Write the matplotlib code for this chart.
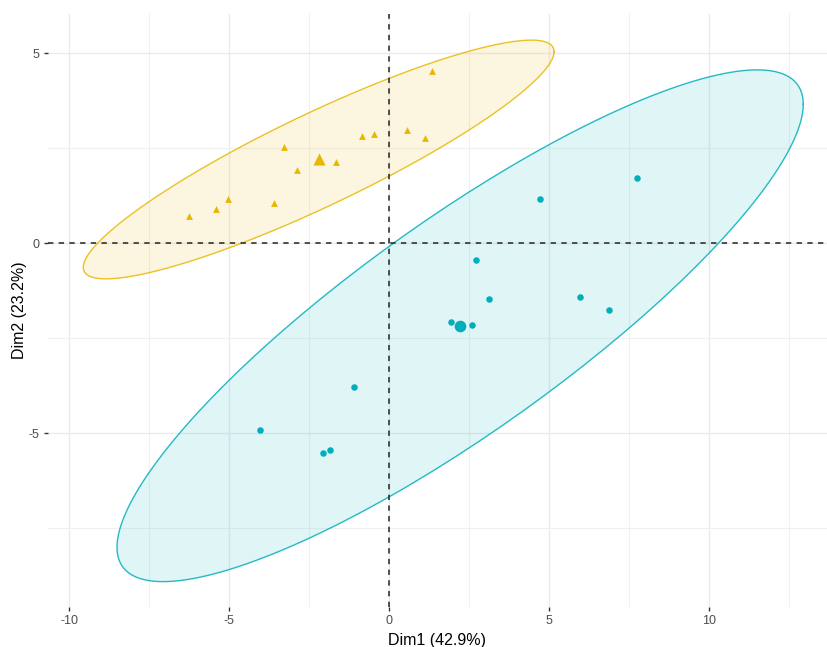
import matplotlib
matplotlib.use("Agg")
import matplotlib.pyplot as plt
import numpy as np

plt.rcParams['font.family'] = ['Liberation Sans', 'DejaVu Sans']
plt.rcParams['axes.unicode_minus'] = False

# individuals
grp1_x = [-6.26, -5.41, -5.03, -3.59, -3.28, -2.88, -1.66, -0.83, -0.48, 0.57, 1.13, 1.34]
grp1_y = [0.72, 0.91, 1.16, 1.07, 2.53, 1.92, 2.13, 2.83, 2.88, 2.99, 2.78, 4.53]
grp2_x = [7.75, 4.73, 2.73, 3.11, 5.98, 6.87, 1.94, 2.60, -1.11, -4.03, -2.07, -1.83]
grp2_y = [1.72, 1.17, -0.44, -1.47, -1.41, -1.75, -2.08, -2.16, -3.78, -4.92, -5.53, -5.45]

xlabel = "Dim1 (42.9%)"
ylabel = "Dim2 (23.2%)"
col1 = "#E7B800"
col2 = "#00AFBB"


def conf_ellipse(x, y, level=0.95, npts=200):
    # same as ggplot2 stat_ellipse(type="norm")
    pts = np.column_stack([x, y])
    center = pts.mean(axis=0)
    shape = np.cov(pts.T)
    chol = np.linalg.cholesky(shape).T
    d = len(x) - 1
    qf = d / 2.0 * ((1 - level) ** (-2.0 / d) - 1)
    radius = np.sqrt(2 * qf)
    t = np.linspace(0, 2 * np.pi, npts)
    circ = np.column_stack([np.cos(t), np.sin(t)])
    return center + radius * circ @ chol


fig = plt.figure(figsize=(8.27, 6.47), dpi=100)
ax = fig.add_axes([0.058, 0.062, 0.942, 0.916])

for gx, gy, c, m, ms in [(grp2_x, grp2_y, col2, "o", 22), (grp1_x, grp1_y, col1, "^", 24)]:
    e = conf_ellipse(gx, gy)
    ax.fill(e[:, 0], e[:, 1], color=c, alpha=0.12, lw=0, zorder=2)
    ax.plot(e[:, 0], e[:, 1], color=c, lw=1.0, alpha=0.85, zorder=3)
    ax.scatter(gx, gy, s=ms, marker=m, color=c, lw=0, zorder=4)
    ax.scatter([np.mean(gx)], [np.mean(gy)], s=ms * 3.2, marker=m, color=c, lw=0, zorder=4)

ax.axhline(0, color="#222222", ls=(0, (3.5, 3.5)), lw=1.1, zorder=3.5)
ax.axvline(0, color="#222222", ls=(0, (3.5, 3.5)), lw=1.1, zorder=3.5)

ax.set_xlim(-10.66, 13.69)
ax.set_ylim(-9.58, 6.03)
ax.set_xticks([-10, -5, 0, 5, 10])
ax.set_yticks([-5, 0, 5])
ax.set_xticks([-7.5, -2.5, 2.5, 7.5, 12.5], minor=True)
ax.set_yticks([-7.5, -2.5, 2.5], minor=True)
ax.grid(True, which="major", color="#EBEBEB", lw=1.0, zorder=0)
ax.grid(True, which="minor", color="#F0F0F0", lw=0.8, zorder=0)
ax.set_axisbelow(True)
for s in ax.spines.values():
    s.set_visible(False)
ax.tick_params(which="major", length=3, width=1, color="#333333", labelcolor="#4D4D4D",
               labelsize=9, pad=3)
ax.tick_params(which="minor", length=0)
ax.set_xlabel(xlabel, fontsize=11.5, color="black", labelpad=4)
ax.set_ylabel(ylabel, fontsize=11.5, color="black")
ax.yaxis.set_label_coords(-0.027, 0.5)

fig.savefig("out.png", dpi=100)
